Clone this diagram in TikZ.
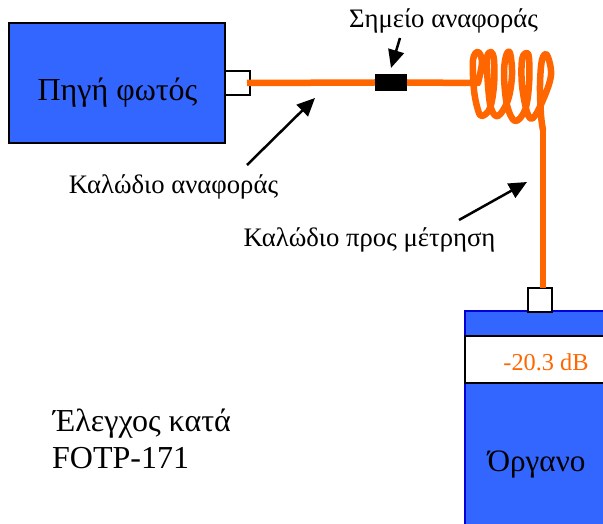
\documentclass[tikz,border=0pt]{standalone}
\usepackage{fontspec}
\setmainfont{Liberation Serif}
\usetikzlibrary{calc,arrows.meta}
\definecolor{boxblue}{HTML}{3366FF}
\definecolor{fibre}{HTML}{FF6600}
\tikzset{
	bluebox/.style={draw=black, line width=1.6pt, fill=boxblue, inner sep=0, outer sep=0},
	port/.style={draw=black, line width=1.6pt, fill=white, inner sep=0, outer sep=0, minimum size=24.5pt},
	fibreline/.style={draw=fibre, line width=6.5pt},
	pointer/.style={line width=2.5pt, -{Triangle[length=18pt,width=16pt]}},
	label/.style={inner sep=0, font=\fontsize{26.7}{27}\selectfont}
}
\begin{document}
\begin{tikzpicture}[x=1pt, y=-1pt]
	%%%%% START %%%%%
	\clip (0, 0) rectangle (603, 524);

	\node[bluebox, minimum width=216pt, minimum height=120pt] (source) at (117, 83) {};
	\node[inner sep=0, font=\fontsize{32}{32}\selectfont] (sourcetext) at (117.5, 93) {Πηγή φωτός};
	\node[port] (sourceport) at (237.5, 83) {};

	\node[bluebox, draw=blue!85!black, minimum width=160pt, minimum height=240pt] (meter) at (545, 431) {};
	\node[bluebox, fill=white, minimum width=160pt, minimum height=47pt] (display) at (545, 359.5) {};
	\node[inner sep=0, text=fibre, font=\fontsize{24.3}{24}\selectfont] (reading) at (546, 362) {-20.3 dB};
	\node[inner sep=0, font=\fontsize{31.2}{31}\selectfont] (metertext) at (536.5, 464) {Όργανο};
	\node[port] (meterport) at (540, 300) {};

	\node[inner sep=0, fill=black, minimum width=32pt, minimum height=17pt] (mark) at (391, 82.5) {};

	\coordinate (fibrestart) at (247, 83);
	\coordinate (coilin) at (478, 83);
	\coordinate (coilout) at (543, 130);

	% fibre and coil
	\draw[fibreline] (fibrestart) -- (mark.west);
	\draw[fibreline] (mark.east) -- (coilin);
	\draw[fibreline, line join=round, line cap=round] plot[smooth, tension=0.6] coordinates {
		(478, 83) (482, 62) (478, 52) (473, 60) (474, 90) (478, 110) (482, 116)
		(490, 108) (494, 85) (494, 60) (491, 52) (487, 58) (488, 85) (491, 108) (498, 116)
		(508, 100) (512, 75) (510, 53) (506, 56) (504, 75) (507, 105) (515, 121)
		(525, 110) (529, 85) (529, 58) (526, 53) (522, 60) (522, 85) (527, 112) (533, 118)
		(543, 100) (551, 75) (547, 55) (542, 60) (540, 85) (541, 115) (543, 130)};
	\draw[fibreline] (coilout) -- (coilout |- meterport.north);

	% labels
	\node[label] (marktext) at (443.5, 21) {Σημείο αναφοράς};
	\node[label] (reftext) at (173.5, 187) {Καλώδιο αναφοράς};
	\node[label] (testtext) at (369.5, 240) {Καλώδιο προς μέτρηση};
	\node[inner sep=0, anchor=west, font=\fontsize{32}{32}\selectfont] (title1) at (53, 424) {Έλεγχος κατά};
	\node[inner sep=0, anchor=west, font=\fontsize{32}{32}\selectfont] (title2) at (52, 458) {FOTP-171};

	% pointers
	\coordinate (p1) at (400, 38);
	\coordinate (p1end) at (391, 68);
	\coordinate (p2) at (247, 165);
	\coordinate (p2end) at (315, 98);
	\coordinate (p3) at (459, 220);
	\coordinate (p3end) at (527, 182);
	\draw[pointer] (p1) -- (p1end);
	\draw[pointer] (p2) -- (p2end);
	\draw[pointer] (p3) -- (p3end);
	%%%%% END %%%%%
\end{tikzpicture}
\end{document}
